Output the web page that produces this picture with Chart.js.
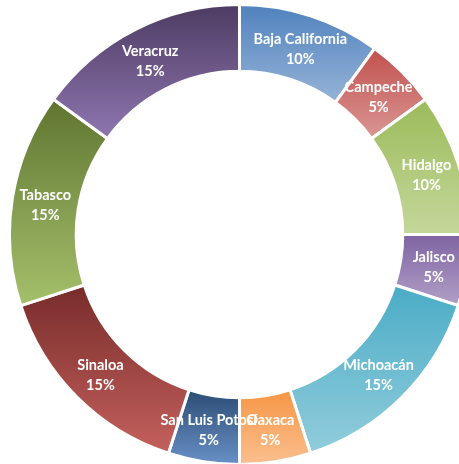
<!DOCTYPE html>
<html>
<head>
<meta charset="utf-8">
<script src="https://cdn.jsdelivr.net/npm/chart.js"></script>
<style>
  html, body { margin: 0; padding: 0; background: #fff; overflow: hidden; width: 459px; height: 464px; }
  #wrap { position: absolute; left: 8px; top: 3px; width: 463px; height: 463px; }
</style>
</head>
<body>
<div id="wrap"><canvas id="donut"></canvas></div>
<script>
const states = ['Baja California', 'Campeche', 'Hidalgo', 'Jalisco', 'Michoacán',
  'Oaxaca', 'San Luis Potosí', 'Sinaloa', 'Tabasco', 'Veracruz'];
const shares = [10, 5, 10, 5, 15, 5, 5, 15, 15, 15];
const topColors = ['#4F81BD', '#C0504D', '#9BBB59', '#8064A2', '#4BACC6',
  '#F79646', '#2C4D75', '#772C2A', '#5F7530', '#4D3B62'];
const bottomColors = ['#95B3D7', '#DA9694', '#C4D79B', '#B1A0C7', '#92CDDC',
  '#FAC090', '#6A92C8', '#C5615E', '#A5C06C', '#8E76B0'];

const total = shares.reduce((a, b) => a + b, 0);

// vertical gradient over each slice's own box, like the office chart fills
function sliceGradient(ctx) {
  const chart = ctx.chart;
  const area = chart.chartArea;
  const i = ctx.dataIndex;
  if (!area) return topColors[i];
  const cx = (area.left + area.right) / 2;
  const cy = (area.top + area.bottom) / 2;
  const outer = Math.min(area.width, area.height) / 2;
  const inner = outer * 0.71;
  let before = 0;
  for (let k = 0; k < i; k++) before += shares[k];
  const a0 = -Math.PI / 2 + 2 * Math.PI * before / total;
  const a1 = a0 + 2 * Math.PI * shares[i] / total;
  const ys = [];
  [a0, a1].forEach(a => { ys.push(cy + inner * Math.sin(a)); ys.push(cy + outer * Math.sin(a)); });
  [-Math.PI / 2, Math.PI / 2, 3 * Math.PI / 2].forEach(a => {
    if (a > a0 && a < a1) ys.push(cy + outer * Math.sin(a));
  });
  const y0 = Math.min(...ys), y1 = Math.max(...ys);
  const g = chart.ctx.createLinearGradient(0, y0, 0, y1);
  g.addColorStop(0, topColors[i]);
  g.addColorStop(1, bottomColors[i]);
  return g;
}

const sliceLabels = {
  id: 'sliceLabels',
  afterDatasetsDraw(chart) {
    const c = chart.ctx;
    const meta = chart.getDatasetMeta(0);
    c.save();
    c.fillStyle = '#ffffff';
    c.font = 'bold 14.5px Lato';
    c.textAlign = 'center';
    c.textBaseline = 'middle';
    meta.data.forEach((arc, i) => {
      const p = arc.tooltipPosition();
      c.fillText(states[i], p.x, p.y - 8);
      c.fillText(shares[i] + '%', p.x, p.y + 12);
    });
    c.restore();
  }
};

new Chart(document.getElementById('donut'), {
  type: 'doughnut',
  data: {
    labels: states,
    datasets: [{
      data: shares,
      backgroundColor: sliceGradient,
      borderColor: '#ffffff',
      borderWidth: 3
    }]
  },
  options: {
    responsive: true,
    maintainAspectRatio: false,
    animation: false,
    cutout: '71%',
    layout: { padding: 0 },
    plugins: {
      legend: { display: false },
      tooltip: { enabled: false }
    }
  },
  plugins: [sliceLabels]
});
</script>
</body>
</html>
